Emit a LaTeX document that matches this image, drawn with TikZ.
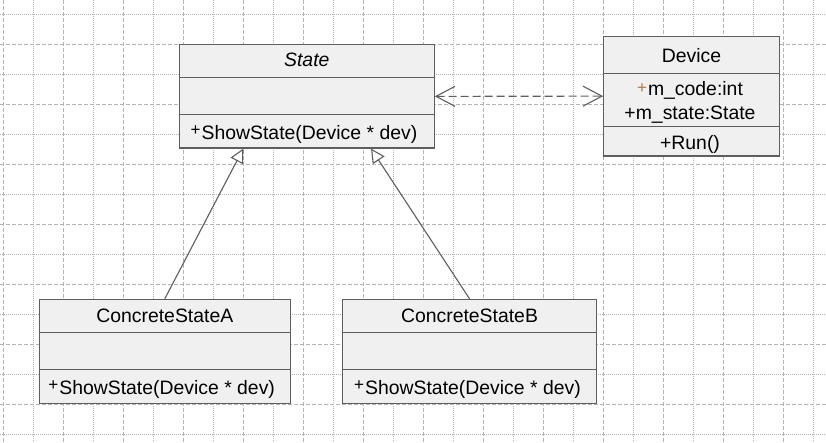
\documentclass[tikz,border=0pt]{standalone}
\usepackage{fontspec}
\setmainfont{Liberation Sans}
\usetikzlibrary{arrows.meta,calc}
\definecolor{gridc}{HTML}{B4B4B4}
\definecolor{boxfill}{HTML}{F0F0F0}
\definecolor{boxline}{HTML}{5E5E5E}
\definecolor{plusc}{HTML}{C07830}
\newcommand\vplus[2][black]{{\fontsize{17}{17}\selectfont\color{#1}\raisebox{#2}{+}}\kern1pt}
\begin{document}
\begin{tikzpicture}[x=1pt,y=-1pt,
  umlbox/.style={draw=boxline, fill=boxfill, line width=1.1pt, rectangle, inner sep=0pt},
  divider/.style={draw=boxline, line width=1.1pt},
  txt/.style={font=\fontsize{19.4}{22}\selectfont, inner sep=0pt, text=black, anchor=base},
  optxt/.style={txt, anchor=base west},
  majorgrid/.style={draw=gridc, line width=1pt, dash pattern=on 4pt off 2pt},
  minorgrid/.style={draw=gridc, line width=1pt, dash pattern=on 1pt off 1pt},
  conn/.style={draw=boxline, line width=1.1pt}]
\useasboundingbox (0,0) rectangle (826,442);
\fill[white] (0,0) rectangle (826,442);
% grid
\foreach \x in {33.3,93.3,...,813.3} \draw[minorgrid] (\x,0) -- (\x,442);
\foreach \y in {14.3,74.3,...,434.3} \draw[minorgrid] (0,\y) -- (826,\y);
\foreach \x in {3.3,63.3,...,783.3} \draw[majorgrid] (\x,0) -- (\x,442);
\foreach \y in {44.3,104.3,...,404.3} \draw[majorgrid] (0,\y) -- (826,\y);

% State
\node[umlbox, minimum width=255pt, minimum height=103.3pt] (State) at (306.8,96.35) {};
\draw[divider] (179.3,77.3) -- (434.3,77.3);
\draw[divider] (179.3,114.3) -- (434.3,114.3);
\node[txt, font=\fontsize{19.4}{22}\selectfont\itshape] (StateName) at (306.8,66) {State};
\node[optxt] (StateOp) at (190.5,139.8) {\vplus{4pt}ShowState(Device * dev)};

% Device
\node[umlbox, minimum width=175.6pt, minimum height=119.7pt] (Device) at (691.5,96.15) {};
\draw[divider] (603.7,73.3) -- (779.3,73.3);
\draw[divider] (603.7,126.7) -- (779.3,126.7);
\node[txt] (DevName) at (691.5,62.3) {Device};
\node[txt] (DevAttrA) at (690,95.7) {\vplus[plusc]{2pt}m\_code:int};
\node[txt] (DevAttrB) at (690,119.3) {+m\_state:State};
\node[txt] (DevOp) at (690,149.7) {+Run()};

% ConcreteStateA
\node[umlbox, minimum width=251pt, minimum height=104.4pt] (CSA) at (164.8,351.5) {};
\draw[divider] (39.3,332.3) -- (290.3,332.3);
\draw[divider] (39.3,369.3) -- (290.3,369.3);
\node[txt] (CSAName) at (164.8,322.7) {ConcreteStateA};
\node[optxt] (CSAOp) at (48.2,394.3) {\vplus{4pt}ShowState(Device * dev)};

% ConcreteStateB
\node[umlbox, minimum width=254.4pt, minimum height=104.4pt] (CSB) at (469.5,351.5) {};
\draw[divider] (342.3,332.3) -- (596.7,332.3);
\draw[divider] (342.3,369.3) -- (596.7,369.3);
\node[txt] (CSBName) at (469.5,322.7) {ConcreteStateB};
\node[optxt] (CSBOp) at (354,394.3) {\vplus{4pt}ShowState(Device * dev)};

% connectors
\draw[conn, dash pattern=on 8pt off 4pt,
  {Straight Barb[length=19pt,width=20pt]}-{Straight Barb[length=19pt,width=20pt]}]
  (State.east) -- (Device.west);
\draw[conn, -{Triangle[open, length=14pt, width=14pt, fill=white]}]
  (CSA.north) -- ($(State.south)+(-63.5,0)$);
\draw[conn, -{Triangle[open, length=14pt, width=14pt, fill=white]}]
  (CSB.north) -- ($(State.south)+(64.2,0)$);
\end{tikzpicture}
\end{document}
